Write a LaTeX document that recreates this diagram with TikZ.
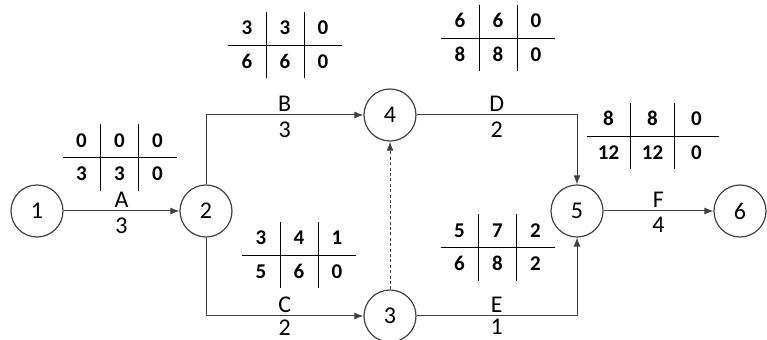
\documentclass[tikz,border=0pt]{standalone}
\usepackage{fontspec}
\setmainfont{Carlito}
\usetikzlibrary{arrows.meta,positioning}
\newlength{\cellw}
\newcommand{\tcell}[1]{\makebox[\cellw]{\bfseries #1}}
% 2x3 time grid: ES EF TF / LS LF FF
\newcommand{\evtab}[7][19pt]{{\setlength{\cellw}{#1}\setlength{\tabcolsep}{0pt}%
  \renewcommand{\arraystretch}{1.5}%
  \begin{tabular}{@{}c|c|c@{}}\tcell{#2}&\tcell{#3}&\tcell{#4}\\\hline
  \tcell{#5}&\tcell{#6}&\tcell{#7}\end{tabular}}}
\tikzset{act/.style={draw=black!75, line width=0.5pt, -{Latex[length=4.5pt,width=3.5pt]}},
  dummy/.style={act, dash pattern=on 1.5pt off 1.2pt},
  ev/.style={circle, draw=black!75, line width=0.6pt, minimum size=26pt, inner sep=0pt, font=\fontsize{12}{14}\selectfont},
  lbl/.style={inner sep=1pt, font=\fontsize{12}{14}\selectfont},
  tab/.style={inner sep=0pt, font=\fontsize{10.5}{11}\selectfont}}

\begin{document}
\begin{tikzpicture}[x=0.5pt, y=-0.5pt]
  \useasboundingbox (0,0) rectangle (767,340);
  % events
  \node[ev] (n1) at (37,211) {1};
  \node[ev] (n2) at (206,211) {2};
  \node[ev] (n4) at (390,115) {4};
  \node[ev] (n3) at (390,316) {3};
  \node[ev] (n5) at (577,211) {5};
  \node[ev] (n6) at (740,211) {6};
  % activities
  \draw[act] (n1) -- node[lbl, above=0.5pt] (lA) {A} node[lbl, below=2pt] (dA) {3} (n2);
  \draw[act] (n2) |- node[lbl, pos=0.75, above=0.5pt] (lB) {B} node[lbl, pos=0.75, below=2pt] (dB) {3} (n4);
  \draw[act] (n2) |- node[lbl, pos=0.75, above=0.5pt] (lC) {C} node[lbl, pos=0.75, below=0.5pt] (dC) {2} (n3);
  \draw[act] (n4) -| node[lbl, pos=0.25, above=0.5pt] (lD) {D} node[lbl, pos=0.25, below=2pt] (dD) {2} (n5);
  \draw[act] (n3) -| node[lbl, pos=0.25, above=0.5pt] (lE) {E} node[lbl, pos=0.25, below=0.5pt] (dE) {1} (n5);
  \draw[act] (n5) -- node[lbl, above=0.5pt] (lF) {F} node[lbl, below=2pt] (dF) {4} (n6);
  \draw[dummy] (n3) -- (n4);
  % time grids
  \node[tab] (tA) at (119.5,157.5) {\evtab{0}{0}{0}{3}{3}{0}};
  \node[tab] (tB) at (285,45) {\evtab{3}{3}{0}{6}{6}{0}};
  \node[tab] (tD) at (498,38) {\evtab{6}{6}{0}{8}{8}{0}};
  \node[tab] (t5) at (652.5,136) {\evtab[22pt]{8}{8}{0}{12}{12}{0}};
  \node[tab] (tC) at (299,255) {\evtab{3}{4}{1}{5}{6}{0}};
  \node[tab] (tE) at (497.5,247.5) {\evtab{5}{7}{2}{6}{8}{2}};
\end{tikzpicture}
\end{document}
